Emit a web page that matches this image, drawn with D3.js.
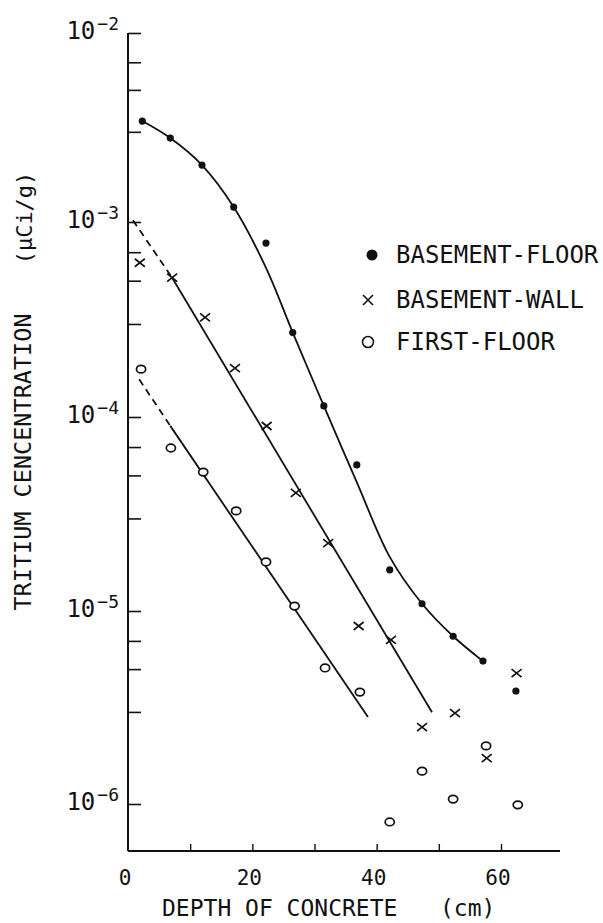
<!DOCTYPE html>
<html>
<head>
<meta charset="utf-8">
<script src="https://cdn.jsdelivr.net/npm/d3@7"></script>
<style>
  body { margin: 0; background: #fff; }
  svg { display: block; background: #fff; }
  text { font-family: "DejaVu Sans Mono", "Liberation Mono", monospace; fill: #111; }
</style>
</head>
<body>
<div id="chart"></div>
<script>
// depth of concrete (cm) vs tritium concentration (uCi/g)
var floorDepth = [2.3, 6.8, 11.9, 17.0, 22.2, 26.5, 31.5, 36.8, 42.1, 47.3, 52.3, 57.1, 62.4];
var floorConc  = [3.42e-3, 2.78e-3, 2.0e-3, 1.2e-3, 7.8e-4, 2.71e-4, 1.14e-4, 5.66e-5, 1.63e-5, 1.09e-5, 7.4e-6, 5.5e-6, 3.85e-6];

var wallDepth = [1.9, 7.1, 12.4, 17.2, 22.3, 27.0, 32.2, 37.1, 42.3, 47.3, 52.6, 57.7, 62.5];
var wallConc  = [6.18e-4, 5.18e-4, 3.24e-4, 1.78e-4, 8.99e-5, 4.06e-5, 2.24e-5, 8.36e-6, 7.08e-6, 2.5e-6, 2.96e-6, 1.73e-6, 4.77e-6];

var firstDepth = [2.1, 6.9, 12.1, 17.4, 22.2, 26.8, 31.7, 37.3, 42.1, 47.3, 52.3, 57.6, 62.7];
var firstConc  = [1.76e-4, 6.92e-5, 5.2e-5, 3.28e-5, 1.79e-5, 1.06e-5, 5.07e-6, 3.8e-6, 8.07e-7, 1.48e-6, 1.06e-6, 2.0e-6, 9.9e-7];

// the hand drawn fitted lines
var floorFitDepth = [2.3, 6.8, 11.9, 17.0, 22.2, 26.5, 31.5, 36.8, 42.1, 47.3, 52.3, 57.1];
var floorFitConc  = [3.42e-3, 2.78e-3, 2.0e-3, 1.2e-3, 5.82e-4, 2.71e-4, 1.14e-4, 4.62e-5, 1.9e-5, 1.09e-5, 7.4e-6, 5.5e-6];
var wallDashDepth = [0.8, 7.1],  wallDashConc = [1.02e-3, 5.18e-4];
var wallFitDepth  = [7.1, 48.9], wallFitConc  = [5.18e-4, 2.99e-6];
var firstDashDepth = [1.8, 6.8],  firstDashConc = [1.56e-4, 9.0e-5];
var firstFitDepth  = [6.8, 38.6], firstFitConc  = [9.0e-5, 2.82e-6];

// axis ticks
var decadeExp = [-2, -3, -4, -5, -6];
var minorMult = [3, 5, 7];
var xTickValues = [10, 20, 30, 40, 50, 60];
var xTickLabels = [0, 20, 40, 60];
var legendLabels = ['BASEMENT-FLOOR', 'BASEMENT-WALL', 'FIRST-FLOOR'];

var width = 603, height = 923;
var axisX = 128, axisBottom = 851, axisTop = 33, axisRightEnd = 560;

var svg = d3.select('#chart').append('svg')
            .attr('width', width)
            .attr('height', height);

// scanned paper is not perfectly even, so the log scale is pinned per decade
var yScale = d3.scaleLog()
               .domain([1e-2, 1e-3, 1e-4, 1e-5, 1e-6])
               .range([33, 222, 417, 611, 804]);
var xScale = d3.scaleLinear().domain([0, 60]).range([axisX, 501]);

function zip(xs, ys) {
  return xs.map(function(x, i) { return {x: x, y: ys[i]}; });
}

// axis lines
svg.append('line')
   .attr('x1', axisX).attr('x2', axisX)
   .attr('y1', axisTop).attr('y2', axisBottom)
   .attr('stroke', '#111').attr('stroke-width', 2);
svg.append('line')
   .attr('x1', axisX).attr('x2', axisRightEnd)
   .attr('y1', axisBottom).attr('y2', axisBottom)
   .attr('stroke', '#111').attr('stroke-width', 2);

// y ticks point inward
var yTicks = decadeExp.map(function(e) { return Math.pow(10, e); });
decadeExp.slice(1).forEach(function(e) {
  minorMult.forEach(function(m) { yTicks.push(m * Math.pow(10, e)); });
});

var yAxis = svg.append('g')
               .attr('transform', 'translate(' + axisX + ',0)')
               .call(d3.axisRight(yScale).tickValues(yTicks).tickSize(13).tickSizeOuter(0).tickFormat(''));
yAxis.select('.domain').remove();
yAxis.selectAll('.tick line').attr('stroke', '#111').attr('stroke-width', 1.6);

var xAxis = svg.append('g')
               .attr('transform', 'translate(0,' + axisBottom + ')')
               .call(d3.axisTop(xScale).tickValues(xTickValues).tickSize(7).tickSizeOuter(0).tickFormat(''));
xAxis.select('.domain').remove();
xAxis.selectAll('.tick line').attr('stroke', '#111').attr('stroke-width', 1.4);

// decade labels 10^n
var yLab = svg.selectAll('.ylab')
              .data(decadeExp)
              .enter().append('text')
              .attr('class', 'ylab')
              .attr('x', 119)
              .attr('y', function(d) { return yScale(Math.pow(10, d)) + 6; })
              .attr('text-anchor', 'end')
              .style('font-size', '24px');
yLab.append('tspan').text('10');
yLab.append('tspan')
    .attr('dy', -9)
    .attr('dx', 2)
    .style('font-size', '18px')
    .text(function(d) { return '\u2212' + Math.abs(d); });

svg.selectAll('.xlab')
   .data(xTickLabels)
   .enter().append('text')
   .attr('class', 'xlab')
   .attr('x', function(d) { return xScale(d) - 3; })
   .attr('y', 885)
   .attr('text-anchor', 'middle')
   .style('font-size', '21px')
   .text(function(d) { return d; });

// axis titles
svg.append('text')
   .attr('x', 162).attr('y', 916)
   .style('font-size', '23px')
   .text('DEPTH OF CONCRETE');
svg.append('text')
   .attr('x', 440).attr('y', 916)
   .style('font-size', '23px')
   .text('(cm)');
svg.append('text')
   .attr('text-anchor', 'middle')
   .attr('transform', 'translate(31,462)rotate(-90)')
   .style('font-size', '23.5px')
   .text('TRITIUM CENCENTRATION');
svg.append('text')
   .attr('text-anchor', 'middle')
   .attr('transform', 'translate(32,218)rotate(-90)')
   .style('font-size', '22px')
   .text('(\u03bcCi/g)');

// fitted lines
var line = d3.line()
             .x(function(d) { return xScale(d.x); })
             .y(function(d) { return yScale(d.y); });

var fits = [
  {pts: zip(floorFitDepth, floorFitConc), dash: null, curve: d3.curveCatmullRom.alpha(0.5)},
  {pts: zip(wallDashDepth, wallDashConc), dash: '7,5', curve: d3.curveLinear},
  {pts: zip(wallFitDepth, wallFitConc), dash: null, curve: d3.curveLinear},
  {pts: zip(firstDashDepth, firstDashConc), dash: '7,5', curve: d3.curveLinear},
  {pts: zip(firstFitDepth, firstFitConc), dash: null, curve: d3.curveLinear}
];

svg.selectAll('.fit')
   .data(fits)
   .enter().append('path')
   .attr('class', 'fit')
   .attr('d', function(d) { return line.curve(d.curve)(d.pts); })
   .attr('fill', 'none')
   .attr('stroke', '#111')
   .attr('stroke-width', 1.8)
   .attr('stroke-dasharray', function(d) { return d.dash; });

// markers
svg.selectAll('.floor')
   .data(zip(floorDepth, floorConc))
   .enter().append('circle')
   .attr('class', 'floor')
   .attr('cx', function(d) { return xScale(d.x); })
   .attr('cy', function(d) { return yScale(d.y); })
   .attr('r', 3.6)
   .attr('fill', '#111');

svg.selectAll('.wall')
   .data(zip(wallDepth, wallConc))
   .enter().append('path')
   .attr('class', 'wall')
   .attr('transform', function(d) { return 'translate(' + xScale(d.x) + ',' + yScale(d.y) + ')'; })
   .attr('d', 'M-5,-4L5,4M-5,4L5,-4')
   .attr('stroke', '#111')
   .attr('stroke-width', 1.7)
   .attr('fill', 'none');

svg.selectAll('.first')
   .data(zip(firstDepth, firstConc))
   .enter().append('ellipse')
   .attr('class', 'first')
   .attr('cx', function(d) { return xScale(d.x); })
   .attr('cy', function(d) { return yScale(d.y); })
   .attr('rx', 4.6)
   .attr('ry', 3.8)
   .attr('fill', '#fff')
   .attr('stroke', '#111')
   .attr('stroke-width', 1.7);

// legend
var legendY = [255, 300, 342];
var key = svg.selectAll('.key')
             .data(legendLabels)
             .enter().append('g')
             .attr('class', 'key')
             .attr('transform', function(d, i) { return 'translate(368,' + legendY[i] + ')'; });

key.append('text')
   .attr('x', 28)
   .attr('y', 8)
   .style('font-size', '24px')
   .text(function(d) { return d; });

key.filter(function(d, i) { return i == 0; })
   .append('circle').attr('cx', 4).attr('r', 5.5).attr('fill', '#111');
key.filter(function(d, i) { return i == 1; })
   .append('path').attr('d', 'M-5,-5L5,5M-5,5L5,-5')
   .attr('stroke', '#111').attr('stroke-width', 1.6);
key.filter(function(d, i) { return i == 2; })
   .append('circle').attr('r', 5.5).attr('fill', 'none')
   .attr('stroke', '#111').attr('stroke-width', 1.6);
</script>
</body>
</html>
